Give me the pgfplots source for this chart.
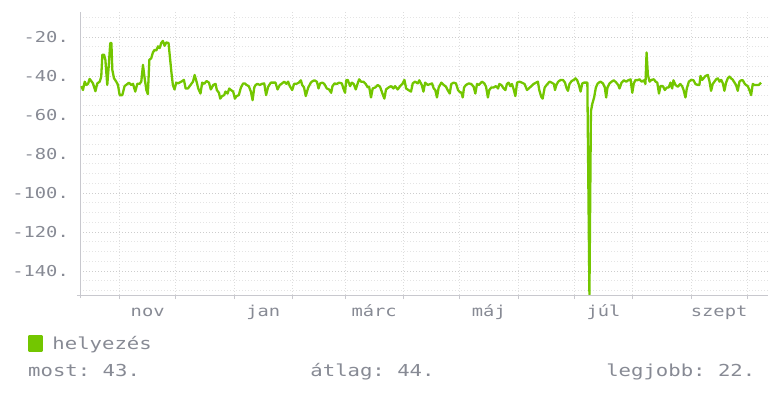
\documentclass[border=0pt]{standalone}
\usepackage{pgfplots}
\pgfplotsset{compat=1.18}
\usepackage{fontspec}
\newfontfamily\monofont[FakeStretch=1.25]{DejaVu Sans Mono}
\definecolor{linegreen}{RGB}{115,198,0}
\definecolor{txtgray}{RGB}{135,138,148}
\definecolor{axgray}{RGB}{200,200,206}
\definecolor{gridmajor}{RGB}{205,205,205}
\definecolor{gridminor}{RGB}{228,228,228}
\newcommand\tickfont{\monofont\fontsize{15bp}{18bp}\selectfont}
\newcommand\legfont{\monofont\fontsize{16.5bp}{19bp}\selectfont\frenchspacing}
\begin{document}
\frenchspacing
\begin{tikzpicture}
\path[use as bounding box] (0,0) rectangle (780bp,393bp);
\begin{axis}[
  at={(80bp,98bp)}, anchor=south west,
  scale only axis, width=688bp, height=283bp,
  xmin=0, xmax=366, ymin=-152.3, ymax=-7.18,
  axis x line*=bottom, axis y line*=left,
  axis line style={axgray, line width=0.8bp, -},
  x axis line style={shorten <=-3bp},
  y axis line style={shorten <=-3bp},
  xtick={36,97.5,156.5,217.5,278.5,340},
  xticklabels={nov,jan,márc,máj,júl,szept},
  minor xtick={21,51,82,113,141,172,202,233,263,294,325,355},
  xminorgrids,
  ytick={-140,-120,...,-20},
  minor ytick={-150,-145,...,-10},
  ymajorgrids, yminorgrids,
  tick align=outside,
  major tick length=0pt,
  minor tick length=4bp,
  minor x tick style={axgray, line width=0.8bp},
  minor y tick style={draw=none},
  major grid style={gridmajor, line width=0.8bp, dash pattern=on 1bp off 2bp},
  minor y grid style={gridminor, line width=0.8bp, dash pattern=on 1bp off 2bp},
  minor x grid style={gridminor!70!gridmajor, line width=0.8bp, dash pattern=on 1bp off 2bp},
  yticklabel={\pgfmathparse{int(\tick)}\pgfmathresult.},
  yticklabel style={font=\tickfont, text=txtgray, anchor=east, inner sep=0pt, xshift=-11bp},
  xticklabel style={font=\tickfont, text=txtgray, anchor=base, inner sep=0pt, yshift=-21bp},
  legend style={at={(-0.0756,-0.1380)}, anchor=north west, draw=none, fill=none, inner sep=0pt, font=\legfont, text=txtgray, cells={anchor=west}},
  legend image code/.code={\fill[linegreen] (0bp,-7bp) rectangle (13bp,7bp); \path (20bp,0bp);},
  clip=true,
]
\addplot[linegreen, line width=2.3bp, line join=round] coordinates {
(0.7,-45.2) (1.6,-47.2) (2.5,-42.9) (3.4,-44.6) (4.3,-44) (5.1,-41.5) (6.0,-42.6) (6.9,-43.8) (8.2,-47.8) (9.2,-43.8) (10.5,-42.9) (11.3,-40.3) (11.9,-29.1) (12.8,-29.1) (13.5,-31.7) (14.5,-44.6) (15.2,-36) (16.1,-23.1) (16.7,-23.1) (17.2,-36.9) (18.1,-41.2) (19.3,-42.9) (20.2,-44.6) (21.1,-49.8) (22.5,-49.8) (23.7,-45.2) (25.2,-44.1) (26.0,-43.4) (27.3,-44.6) (28.2,-44) (29.4,-48) (30.5,-44) (31.7,-44) (32.6,-42.9) (33.5,-34.3) (34.4,-41.2) (35.3,-47.2) (36.1,-49.3) (36.9,-31.7) (37.9,-30.9) (38.8,-27.9) (39.7,-26.6) (40.6,-26.9) (41.5,-24.8) (42.4,-25.7) (43.2,-23.1) (44.1,-22) (45.0,-24.5) (45.9,-22.8) (47.1,-23.1) (47.8,-30) (48.6,-37.8) (49.4,-44.6) (50.3,-46.9) (51.2,-43.4) (52.1,-43.8) (53.9,-42.9) (55.3,-42) (56.2,-46.4) (57.4,-46.4) (58.8,-44.6) (60.1,-42.9) (61.0,-39.5)
(62.0,-42.9) (62.9,-46.4) (64.1,-49) (65.0,-43.4) (66.1,-44) (67.3,-42.6) (68.6,-43.4) (69.6,-46.9) (70.9,-44.6) (72.1,-44) (72.8,-47.2) (73.9,-48.6) (74.6,-51.6) (75.6,-50.3) (76.7,-49.8) (77.4,-48) (78.5,-49) (79.4,-46.4) (80.3,-47.2) (81.5,-48) (82.4,-51.6) (83.3,-50.3) (84.5,-49.8) (85.6,-45.9) (86.8,-43.8) (87.7,-43.8) (88.6,-44.6) (89.8,-45.2) (90.9,-48) (91.8,-52.4) (92.7,-45.9) (93.4,-44.6) (94.4,-44) (95.7,-44.6) (96.9,-44) (98.0,-43.8) (99.0,-49.8) (100.1,-45.5) (101.5,-43.4) (102.8,-43.4) (104.0,-43.4) (105.1,-46.9) (106.3,-44.6) (107.5,-43.8) (108.6,-42.9) (109.8,-44) (110.7,-42.9) (111.6,-45.2) (112.9,-47.2) (113.9,-44) (115.2,-44) (116.4,-43.4) (117.5,-42.2) (118.2,-44.6) (119.2,-45.9) (120.1,-50.3) (121.4,-45.9) (122.8,-43.4)
(123.3,-42.9) (124.7,-42.2) (126.0,-42.9) (126.9,-46.4) (127.7,-43.8) (129.0,-43.4) (130.0,-44.1) (131.3,-46.4) (132.5,-46.9) (133.6,-48.6) (134.3,-45.2) (135.4,-43.8) (136.6,-44.1) (137.8,-43.4) (139.3,-43.8) (140.1,-46.4) (141.0,-48.6) (141.6,-42.2) (142.4,-42) (143.7,-45.2) (144.6,-43.4) (145.6,-44.1) (146.7,-46.9) (147.6,-44.1) (148.5,-41.7) (149.5,-42.9) (150.8,-42.9) (152.0,-44.1) (153.1,-45.9) (153.8,-45.5) (154.8,-51) (155.7,-46.4) (157.0,-45.9) (158.4,-44.6) (159.6,-45.5) (160.9,-49) (161.9,-51.6) (162.8,-46.9) (164.1,-45.9) (165.5,-45.2) (166.7,-46.4) (167.6,-45.2) (169.0,-46.9) (170.3,-45.2) (171.5,-44.1) (172.6,-42) (173.5,-46.4) (174.7,-47.2) (176.1,-48) (177.0,-43.8) (178.2,-42.9) (179.7,-43.8) (180.5,-42.2) (181.8,-44.6) (182.7,-48) (183.6,-43.4) (185.0,-44.6)
(187.3,-43.8) (188.2,-46.4) (189.0,-47.2) (189.9,-51) (190.8,-45.9) (192.2,-43.4) (193.5,-44.6) (194.7,-45.5) (195.8,-47.6) (196.7,-49) (197.5,-44.1) (198.8,-43.4) (200.0,-43.8) (201.1,-47.2) (201.8,-48) (202.9,-48.6) (203.6,-51) (204.3,-45.9) (205.3,-44.6) (206.8,-43.8) (208.2,-44.1) (209.4,-45.5) (210.3,-49) (211.2,-44.1) (212.1,-44.6) (213.0,-43.8) (213.8,-42.9) (215.1,-43.8) (216.0,-45.5) (217.0,-51) (217.7,-47.2) (218.8,-45.9) (220.0,-45.9) (221.3,-45.2) (222.4,-46.4) (223.1,-44.1) (224.1,-44.6) (225.4,-46.4) (226.3,-47.2) (227.1,-44.1) (228.0,-43.4) (228.9,-45.2) (229.8,-44.1) (230.7,-46.9) (231.6,-50.3) (232.5,-43.4) (233.7,-42.9) (235.1,-43.4) (236.5,-44.1) (237.8,-47.2) (238.7,-46.4) (240.1,-45.2) (241.3,-44.1) (242.6,-43.4) (243.6,-42.9) (244.3,-47.2) (245.4,-50.7) (246.1,-51.6) (247.2,-45.9)
(248.4,-44.4) (249.8,-42.9) (250.9,-43.4) (252.1,-44.1) (252.7,-47.2) (253.4,-44.6) (254.4,-42.9) (255.7,-42) (256.9,-42) (258.0,-43.4) (258.9,-46.4) (259.6,-47.6) (260.4,-44.1) (261.5,-42.6) (262.7,-42) (263.6,-41.2) (264.5,-42.2) (265.4,-44.6) (266.3,-48) (267.2,-43.8) (268.1,-43.4) (269.9,-43.4) (271.0,-152) (271.8,-58) (272.6,-54) (273.5,-51) (274.4,-46) (275.3,-44) (276.0,-43.4) (276.9,-42.9) (278.2,-43.8) (279.2,-45.9) (279.9,-51) (280.6,-45.9) (281.7,-43.8) (282.8,-42.9) (284.0,-42.2) (285.3,-43.4) (286.3,-44.6) (287.0,-46.4) (288.1,-43.4) (289.3,-42.2) (290.6,-42.9) (291.6,-42.2) (292.9,-41.7) (293.8,-48.6) (294.6,-43.8) (295.5,-42) (296.4,-42.2) (297.7,-41.7) (298.7,-42.9) (300.0,-42.2) (300.8,-44.1) (301.4,-27.9) (302.1,-39.5) (303.0,-42.9) (304.0,-42) (305.3,-41.7) (306.2,-42.9) (307.1,-43.4) (308.0,-49) (308.8,-45.2) (310.1,-45.2) (311.1,-47.2)
(312.2,-45.9) (313.2,-45.9) (314.1,-43.4) (315.0,-46.4) (315.7,-42.2) (316.8,-44.6) (318.0,-45.5) (319.3,-44.1) (320.3,-45.2) (321.0,-46.9) (322.1,-51) (322.8,-46.4) (323.9,-42.9) (325.1,-42) (326.4,-42.2) (327.4,-44.1) (328.7,-44.6) (329.5,-44.6) (330.1,-40) (331.0,-42) (331.7,-41.2) (332.7,-40) (334.0,-39.5) (334.9,-42.9) (335.7,-47.6) (336.6,-44.1) (337.5,-42.9) (338.4,-41.7) (339.3,-41.2) (340.2,-42.9) (341.1,-42) (342.0,-43.8) (342.8,-47.6) (343.7,-43.4) (344.6,-41.2) (345.5,-40.3) (346.4,-41.2) (347.3,-42) (348.2,-43.4) (349.0,-44.6) (349.9,-47.6) (350.8,-42.9) (351.7,-42.2) (352.6,-42.2) (353.5,-43.8) (354.3,-44.6) (355.2,-45.2) (356.1,-47.2) (357.0,-49.8) (357.9,-44.1) (358.8,-44.6) (360.0,-44.6) (361.1,-44.6) (362.3,-43.4)
};
\addlegendentry{helyezés}
\end{axis}
\node[anchor=base west, font=\legfont, text=txtgray, inner sep=0pt] at (28bp,17bp) {most: 43.};
\node[anchor=base, font=\legfont, text=txtgray, inner sep=0pt] at (372.5bp,17bp) {átlag: 44.};
\node[anchor=base east, font=\legfont, text=txtgray, inner sep=0pt] at (755.5bp,17bp) {legjobb: 22.};
\end{tikzpicture}
\end{document}
